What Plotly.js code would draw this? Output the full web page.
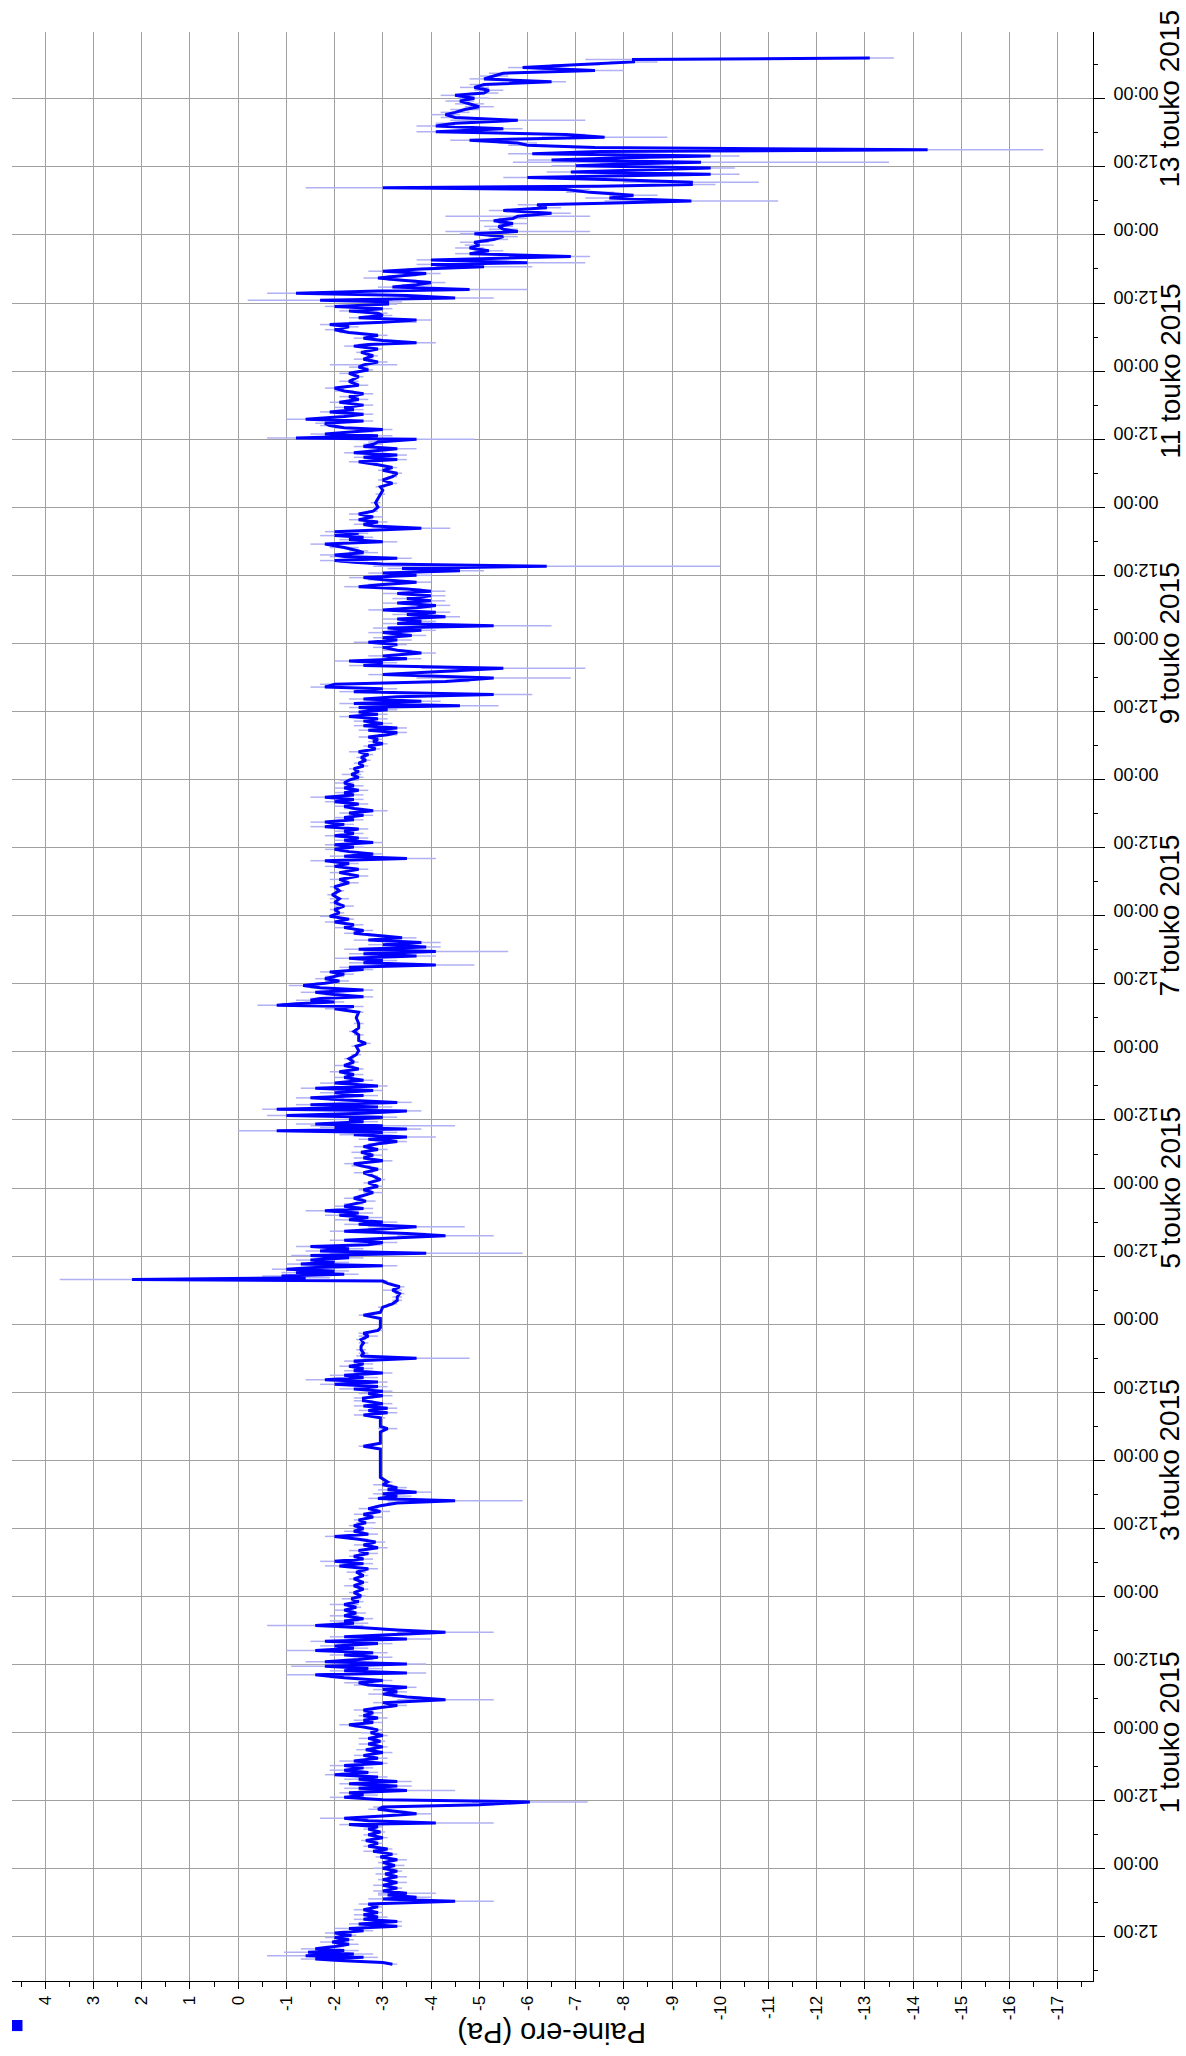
<!DOCTYPE html>
<html>
<head>
<meta charset="utf-8">
<script src="https://cdn.plot.ly/plotly-3.0.1.min.js"></script>
<style>
  html, body { margin: 0; padding: 0; background: #ffffff; }
  #chart { width: 1186px; height: 2056px; }
</style>
</head>
<body>
<div id="chart"></div>
<script>
// ---- Data (hours counted from 2015-04-29 00:00) ----
const startTime = '2015-04-29T00:00:00Z';

const hoursFromStart = [
  7.2,7.5,7.8,8.1,8.4,8.7,9.0,9.3,9.6,9.9,
  10.3,10.7,11.1,11.5,11.9,12.3,12.7,13.1,13.5,13.9,
  14.3,14.7,15.1,15.5,15.9,16.3,16.8,17.3,17.8,18.3,
  18.7,19.0,19.4,19.7,20.1,20.6,21.1,21.6,22.1,22.6,
  23.1,23.6,24.1,24.6,25.1,25.6,26.1,26.6,27.1,27.5,
  28.0,28.5,29.0,29.5,30.0,30.5,31.0,31.4,31.8,32.1,
  32.5,32.9,33.3,33.7,34.1,34.5,34.9,35.3,35.8,36.2,
  36.6,37.0,37.4,37.8,38.2,38.6,39.0,39.4,39.8,40.2,
  40.6,41.0,41.4,41.8,42.2,42.6,43.0,43.5,44.0,44.5,
  45.0,45.5,46.0,46.5,47.0,47.5,48.0,48.5,49.0,49.4,
  49.8,50.2,50.6,51.0,51.5,52.0,52.5,52.8,53.3,53.8,
  54.3,54.8,55.2,55.6,56.0,56.4,56.8,57.2,57.7,58.2,
  58.5,58.9,59.3,59.7,60.1,60.5,60.9,61.3,61.7,62.1,
  62.5,62.9,63.3,63.7,64.1,64.5,64.9,65.3,65.7,66.1,
  66.5,66.9,67.3,67.7,68.1,68.6,69.1,69.6,70.1,70.6,
  71.1,71.6,72.1,72.7,73.3,73.9,74.5,75.1,75.7,76.3,
  76.9,77.4,77.8,78.2,78.6,79.1,79.6,80.1,80.6,81.1,
  81.6,82.1,82.6,83.0,83.5,84.0,84.5,85.0,85.5,86.0,
  86.5,87.0,87.5,88.0,88.5,88.9,89.3,89.7,90.1,90.4,
  90.8,91.2,91.7,92.2,93.0,94.0,95.0,96.0,97.0,98.0,
  98.5,99.0,100.0,101.0,101.6,102.0,103.0,103.5,104.0,104.4,
  104.8,105.2,105.6,106.0,106.5,
  107.0,107.4,107.8,108.2,108.6,109.0,109.4,109.8,110.2,110.6,
  111.0,111.4,111.8,112.2,112.6,113.0,113.5,114.0,114.4,114.9,
  115.5,116.1,116.7,117.3,117.9,118.4,118.9,119.4,120.0,121.0,
  121.6,122.1,123.0,123.6,124.2,124.8,125.4,126.0,126.6,127.2,
  127.6,127.9,128.2,128.5,128.8,129.1,129.4,129.7,130.0,130.3,
  130.6,130.9,131.3,131.7,132.1,132.5,132.9,133.3,133.7,134.0,
  134.4,134.8,135.2,135.6,136.0,136.4,136.8,137.2,137.6,138.0,
  138.4,138.8,139.2,139.6,140.0,140.4,140.8,141.2,141.7,142.2,
  142.7,143.2,143.7,144.3,144.9,145.5,146.1,146.7,147.3,147.9,
  148.3,148.8,149.3,149.8,150.3,150.8,151.3,151.8,152.2,152.6,
  153.0,153.4,153.8,154.1,154.4,154.7,155.0,155.3,155.7,156.1,
  156.5,156.8,157.2,157.6,157.9,158.3,158.7,159.1,159.5,159.9,
  160.3,160.8,161.2,161.6,162.0,162.5,163.0,163.5,164.0,164.5,
  165.0,165.6,166.2,166.8,167.5,168.2,169.0,169.5,170.0,171.0,
  171.6,172.2,173.0,174.0,175.0,175.6,176.0,176.2,176.5,176.8,
  177.1,177.4,177.7,178.1,178.5,178.9,179.3,179.7,180.1,180.5,
  180.9,181.3,181.7,182.1,182.5,182.9,183.3,183.7,184.1,184.5,
  184.9,185.3,185.7,186.1,186.5,186.9,187.3,187.7,188.1,188.5,
  188.9,189.4,189.9,190.4,190.9,191.4,191.9,192.5,193.1,193.7,
  194.3,195.0,195.7,196.4,197.1,197.8,198.4,199.0,199.6,200.2,
  200.7,201.2,201.7,202.1,202.5,202.9,203.3,203.7,204.1,204.5,
  204.9,205.3,205.7,206.1,206.5,206.9,207.3,207.7,208.1,208.5,
  208.9,209.3,209.7,210.1,210.5,210.9,211.3,211.7,212.1,212.5,
  212.9,213.3,213.7,214.1,214.5,214.9,215.4,215.9,216.4,216.9,
  217.4,217.9,218.4,218.9,219.4,219.9,220.4,220.9,221.4,221.9,
  222.3,222.7,223.1,223.5,223.9,224.3,224.7,225.1,225.5,225.9,
  226.3,226.7,227.1,227.5,227.9,228.3,228.7,229.0,229.4,229.8,
  230.2,
  230.6,231.0,231.5,232.0,232.3,232.8,233.3,233.9,234.5,235.0,
  235.6,236.1,236.6,236.9,237.3,237.8,238.3,238.8,239.3,239.8,
  240.2,240.6,241.0,241.4,241.9,242.3,242.7,243.1,243.5,243.9,
  244.3,244.7,245.1,245.5,245.9,246.3,246.7,247.1,247.5,247.9,
  248.4,248.8,249.2,249.6,250.0,250.4,250.8,251.2,251.6,252.0,
  252.4,252.8,253.2,253.6,254.0,254.3,254.6,255.0,255.3,255.6,
  256.0,256.3,256.9,257.5,257.9,258.3,258.7,259.0,259.4,259.7,
  260.3,260.7,261.0,261.4,261.8,262.3,262.8,263.3,264.0,264.8,
  265.5,266.3,267.0,267.6,268.2,268.8,269.4,270.0,270.5,271.0,
  271.5,272.0,272.4,272.8,273.2,273.6,274.0,274.3,274.7,275.1,
  275.5,276.0,276.2,276.6,276.9,277.3,277.7,278.0,278.4,278.8,
  279.2,279.5,280.0,280.4,280.8,281.2,281.6,282.0,282.5,283.0,
  283.5,284.0,284.5,285.0,285.5,286.2,287.0,287.6,288.2,288.7,
  289.1,289.6,290.1,290.7,291.3,291.9,292.4,292.7,293.0,293.4,
  293.8,294.3,294.8,295.3,295.8,296.2,296.6,297.0,297.4,297.8,
  298.2,298.6,299.0,299.4,299.8,300.2,300.5,300.9,301.3,301.7,
  302.1,302.4,302.8,303.2,303.6,304.0,304.4,304.8,305.2,305.6,
  306.0,306.4,306.8,307.1,307.6,308.2,308.7,309.2,309.7,310.2,
  310.7,311.2,311.7,312.2,312.6,313.0,313.5,314.0,314.5,314.9,
  315.3,315.8,316.3,316.8,317.3,317.6,318.0,318.5,319.0,319.5,
  320.0,320.3,320.6,320.9,321.3,321.7,322.1,322.4,322.7,323.1,
  323.5,323.8,324.2,324.5,324.8,325.2,325.6,325.9,326.3,326.7,
  327.0,327.4,327.8,328.2,328.7,329.2,329.7,330.2,330.7,331.2,
  331.7,332.2,332.7,333.2,333.6,334.1,334.6,335.1,335.6,336.1,
  336.6,337.0,337.5,338.0,338.5,339.0,339.5,340.0,340.5,341.0,
  341.5,342.0,342.5,342.9,343.2
];

const pressurePa = [
  -3.2,-3.0,-2.2,-1.6,-2.6,-1.4,-2.4,-1.45,-2.2,-1.6,
  -2.0,-2.3,-1.95,-2.3,-2.0,-2.35,-2.0,-2.6,-2.3,-3.3,
  -2.5,-3.3,-2.6,-2.9,-2.6,-2.9,-2.6,-2.9,-2.7,-4.5,
  -3.0,-3.7,-3.1,-3.5,-3.0,-3.3,-3.0,-3.3,-3.0,-3.3,
  -3.05,-3.3,-3.0,-3.25,-3.0,-3.3,-2.95,-3.2,-2.8,-3.1,
  -2.7,-2.9,-2.65,-3.0,-2.7,-2.95,-2.7,-2.9,-2.3,-4.1,
  -2.7,-2.2,-3.0,-3.7,-3.3,-2.9,-3.0,-5.0,-6.05,-3.0,
  -2.2,-2.6,-2.3,-3.5,-2.5,-3.3,-2.3,-3.3,-2.5,-2.9,
  -2.0,-2.7,-2.2,-2.6,-2.2,-3.0,-2.4,-2.9,-2.6,-3.0,
  -2.65,-3.0,-2.7,-2.95,-2.7,-3.0,-2.75,-2.9,-2.6,-2.3,
  -2.8,-2.6,-2.9,-2.6,-2.8,-2.6,-3.0,-3.3,-3.0,-4.3,
  -3.5,-3.0,-3.3,-3.0,-3.5,-2.7,-2.5,-3.0,-2.2,-1.6,
  -3.5,-2.2,-2.7,-1.8,-3.5,-1.8,-2.5,-2.9,-2.2,-2.8,
  -1.6,-2.4,-2.0,-2.9,-1.8,-3.5,-2.2,-3.3,-4.3,-3.3,
  -2.6,-1.6,-2.4,-2.2,-2.6,-2.2,-2.45,-2.2,-2.45,-2.2,
  -2.5,-2.35,-2.55,-2.4,-2.6,-2.4,-2.6,-2.4,-2.6,-2.45,
  -2.7,-2.1,-2.6,-2.0,-2.6,-2.4,-2.7,-2.5,-2.9,-2.6,
  -2.85,-2.5,-2.0,-2.7,-2.4,-2.6,-2.4,-2.65,-2.5,-2.8,
  -2.6,-2.95,-2.7,-2.95,-3.3,-4.5,-2.9,-3.3,-3.0,-3.7,
  -3.1,-3.3,-3.0,-3.1,-2.95,-2.95,-2.95,-2.95,-2.95,-2.95,
  -2.6,-2.95,-2.95,-2.95,-3.1,-2.95,-2.95,-2.95,-2.6,-3.1,
  -2.7,-3.1,-2.6,-3.0,-2.6,
  -2.6,-3.0,-2.7,-3.0,-2.4,-2.9,-2.0,-2.9,-1.8,-2.6,
  -2.2,-3.0,-2.4,-2.6,-2.3,-2.6,-2.4,-3.7,-2.55,-2.6,
  -2.55,-2.55,-2.6,-2.55,-2.7,-2.6,-2.9,-2.95,-2.95,-2.95,
  -2.6,-2.95,-3.0,-3.2,-3.3,-3.3,-3.35,-3.2,-3.35,-3.1,
  -3.0,2.2,-1.4,-0.9,-2.2,-1.2,-2.0,-1.0,-1.6,-3.0,
  -1.3,-2.0,-1.5,-2.3,-1.5,-3.9,-1.7,-2.3,-1.5,-2.7,
  -3.0,-2.2,-3.2,-4.3,-3.5,-2.2,-3.0,-3.7,-2.5,-3.0,
  -2.3,-2.7,-2.1,-2.5,-1.8,-2.6,-2.2,-2.4,-2.65,-2.4,
  -2.6,-2.8,-2.6,-2.9,-2.7,-2.95,-2.8,-2.6,-2.9,-2.55,
  -2.4,-3.0,-2.6,-2.8,-2.55,-2.9,-2.6,-2.9,-3.3,-2.7,
  -3.5,-2.4,-3.0,-0.8,-3.5,-2.0,-3.0,-1.6,-2.6,-2.3,
  -3.0,-1.0,-2.6,-3.5,-0.8,-2.9,-1.5,-3.3,-2.2,-1.5,
  -2.6,-2.0,-2.8,-1.6,-2.9,-2.0,-2.6,-2.2,-2.4,-2.1,
  -2.5,-2.2,-2.4,-2.3,-2.45,-2.5,-2.45,-2.65,-2.5,-2.5,
  -2.4,-2.5,-2.5,-2.45,-2.5,-2.0,-2.4,-0.8,-1.2,-2.0,
  -1.5,-1.7,-2.6,-2.0,-1.6,-2.6,-1.7,-1.35,-1.8,-2.1,
  -1.8,-2.0,-2.2,-1.9,-2.6,-2.3,-4.1,-2.6,-3.0,-2.3,
  -3.7,-2.6,-4.1,-2.5,-3.9,-3.0,-3.8,-2.7,-3.4,-2.9,
  -2.4,-2.6,-2.2,-2.4,-2.0,-2.3,-1.9,-2.1,-2.0,-2.2,
  -2.0,-2.1,-1.95,-2.1,-2.0,-2.3,-2.1,-2.5,-2.1,-2.5,
  -2.0,-2.3,-1.8,-3.5,-2.2,-2.8,-2.3,-2.0,-2.4,-2.0,
  -2.8,-2.2,-2.5,-2.0,-2.4,-2.2,-2.5,-1.8,-2.2,-1.8,
  -2.4,-2.2,-2.6,-2.3,-2.8,-2.4,-2.2,-2.5,-2.0,-2.4,
  -1.8,-2.4,-2.2,-2.5,-2.2,-2.4,-2.2,-2.3,-2.5,-2.35,
  -2.5,-2.4,-2.6,-2.5,-2.65,-2.55,-2.7,-2.5,-2.85,-2.7,
  -3.0,-2.8,-2.9,-2.7,-3.1,-3.3,-2.7,-3.3,-2.6,-3.0,
  -2.6,-2.9,-2.3,-2.9,-2.5,-3.1,-2.5,-4.6,-2.4,-3.8,
  -2.6,
  -3.3,-5.3,-2.4,-3.0,-1.8,-2.0,-4.3,-5.3,-3.0,-4.2,
  -5.5,-2.6,-3.0,-2.3,-3.5,-3.0,-3.8,-3.3,-3.0,-3.3,
  -2.7,-3.3,-3.0,-3.6,-3.0,-3.8,-3.1,-5.3,-3.3,-3.8,
  -3.3,-4.3,-3.5,-4.1,-3.0,-3.7,-4.1,-3.3,-4.0,-3.5,
  -4.0,-3.3,-4.0,-3.5,-2.5,-3.0,-3.7,-3.0,-2.6,-3.7,
  -3.0,-4.6,-3.4,-6.4,-3.0,-2.4,-2.0,-3.3,-2.2,-2.0,
  -2.6,-2.5,-2.2,-1.8,-3.0,-2.3,-2.6,-2.0,-2.5,-2.0,
  -3.8,-2.8,-2.6,-2.9,-2.5,-2.8,-2.5,-2.8,-2.9,-2.85,
  -2.9,-2.95,-3.0,-2.95,-3.2,-3.0,-3.2,-3.3,-3.0,-3.2,
  -2.9,-2.5,-3.3,-2.6,-3.3,-2.4,-2.9,-3.3,-2.6,-2.8,
  -2.9,-3.7,-1.2,-2.9,-1.8,-2.5,-3.0,-2.2,-1.9,-1.8,
  -2.6,-1.4,-2.2,-2.6,-1.9,-2.4,-2.2,-2.6,-2.1,-2.5,
  -2.3,-2.6,-2.2,-2.0,-2.5,-2.3,-2.5,-2.3,-2.7,-2.5,
  -2.6,-2.9,-2.6,-2.8,-2.55,-2.9,-2.4,-2.7,-3.7,-3.0,
  -2.6,-2.9,-2.3,-2.0,-2.3,-1.9,-3.0,-3.7,-2.5,-3.0,
  -2.9,-2.3,-3.0,-2.0,-3.1,-3.1,-1.7,-4.5,-3.5,-1.2,
  -2.9,-4.8,-3.2,-3.7,-4.0,-3.4,-2.9,-3.4,-3.9,-3.0,
  -3.8,-5.1,-4.0,-6.0,-4.0,-6.9,-4.8,-5.2,-4.8,-5.0,
  -4.9,-5.3,-5.5,-4.9,-5.8,-5.5,-5.4,-5.7,-5.3,-5.7,
  -5.8,-6.5,-5.5,-6.4,-6.2,-7.6,-9.4,-7.7,-8.2,-7.3,
  -6.8,-3.0,-7.5,-9.4,-9.4,-8.0,-6.0,-7.7,-9.8,-6.9,
  -8.5,-9.8,-7.0,-8.0,-9.6,-6.5,-8.0,-9.8,-6.1,-7.5,
  -14.3,-7.4,-6.0,-5.8,-4.8,-7.6,-6.8,-4.1,-5.5,-4.1,
  -4.5,-5.8,-4.5,-4.3,-4.5,-4.7,-5.0,-4.8,-4.6,-4.9,
  -4.5,-5.1,-5.2,-4.9,-5.1,-6.5,-5.1,-5.3,-5.5,-7.4,
  -5.9,-7.0,-8.2,-8.2,-13.1
];

const errorPa = [
  0.1,0.1,0.3,0.3,0.3,0.8,0.4,0.5,0.3,0.3,
  0.2,0.2,0.25,0.1,0.2,0.1,0.2,0.2,0.3,0.1,
  0.2,0.1,0.2,0.2,0.2,0.1,0.2,0.1,0.2,0.8,
  0.3,0.3,0.2,0.6,0.2,0.1,0.2,0.2,0.1,0.2,
  0.2,0.1,0.2,0.2,0.1,0.2,0.1,0.1,0.2,0.1,
  0.1,0.1,0.1,0.1,0.1,0.1,0.1,0.1,0.2,1.2,
  0.3,0.5,0.2,0.3,0.2,0.2,0.2,0.3,1.2,0.4,
  0.3,0.3,0.2,1.0,0.3,0.3,0.2,0.3,0.3,0.2,
  0.2,0.2,0.3,0.2,0.3,0.1,0.3,0.2,0.2,0.2,
  0.2,0.1,0.2,0.1,0.2,0.1,0.2,0.1,0.2,0.2,
  0.2,0.2,0.2,0.1,0.2,0.2,0.2,0.2,0.2,1.0,
  0.3,0.3,0.2,0.2,0.2,0.3,0.3,0.2,0.3,0.6,
  0.4,0.3,0.3,0.7,0.4,0.4,0.3,0.3,0.3,0.3,
  0.6,0.3,0.3,0.3,0.3,0.5,0.3,0.3,1.0,0.3,
  0.3,1.0,0.3,0.3,0.2,0.3,0.2,0.2,0.1,0.3,
  0.1,0.2,0.1,0.1,0.1,0.2,0.1,0.1,0.1,0.2,
  0.2,0.3,0.2,0.3,0.2,0.1,0.2,0.2,0.2,0.2,
  0.2,0.2,0.2,0.2,0.2,0.2,0.1,0.2,0.1,0.2,
  0.2,0.2,0.2,0.1,0.2,1.4,0.2,0.3,0.2,0.3,
  0.2,0.2,0.2,0.1,0,0,0,0,0,0,
  0.1,0,0,0,0.2,0,0,0.1,0.2,0.2,
  0.2,0.2,0.2,0.2,0.2,
  0.2,0.2,0.2,0.2,0.3,0.2,0.3,0.2,0.4,0.3,
  0.3,0.2,0.2,0.2,0.2,0.2,0.2,1.1,0.1,0.1,
  0.1,0,0.1,0.1,0.2,0.1,0.1,0,0,0,
  0.1,0,0.1,0.1,0.1,0.1,0.1,0.2,0.1,0.1,
  0.1,1.5,0.5,0.4,0.3,0.3,0.3,0.3,0.3,0.3,
  0.3,0.3,0.3,0.3,0.4,2.0,0.3,0.3,0.3,0.3,
  0.3,0.3,0.3,1.0,0.4,0.3,0.3,1.0,0.3,0.3,
  0.3,0.3,0.3,0.3,0.4,0.2,0.2,0.2,0.2,0.2,
  0.1,0.2,0.1,0.1,0.1,0.1,0.1,0.2,0.1,0.2,
  0.2,0.2,0.2,0.2,0.2,0.2,0.2,0.2,0.2,0.2,
  0.6,0.3,0.3,0.8,0.3,0.3,1.5,0.4,0.3,0.3,
  0.3,0.4,0.3,0.3,0.3,0.3,0.3,0.3,0.3,0.3,
  0.3,0.3,0.2,0.3,0.2,0.3,0.2,0.2,0.2,0.2,
  0.1,0.2,0.1,0.1,0.1,0,0.1,0.1,0,0.1,
  0.1,0,0.1,0,0.1,0.2,0.2,0.4,0.3,0.2,
  0.3,0.2,0.2,0.2,0.3,0.2,0.2,0.3,0.2,0.2,
  0.2,0.2,0.2,0.2,0.2,0.2,0.8,0.3,0.3,0.3,
  0.4,0.3,1.5,0.3,0.3,0.3,0.4,0.3,0.3,0.2,
  0.2,0.2,0.2,0.2,0.2,0.1,0.2,0.1,0.1,0.2,
  0.1,0.2,0.1,0.1,0.1,0.2,0.2,0.2,0.2,0.2,
  0.2,0.2,0.3,0.6,0.3,0.2,0.2,0.2,0.2,0.2,
  0.2,0.2,0.2,0.2,0.2,0.2,0.2,0.3,0.2,0.3,
  0.2,0.2,0.2,0.2,0.3,0.2,0.2,0.2,0.2,0.2,
  0.3,0.2,0.2,0.2,0.2,0.2,0.2,0.2,0.1,0.2,
  0.1,0.1,0.1,0.1,0.1,0.1,0.1,0.2,0.1,0.1,
  0.1,0.1,0.1,0.2,0.2,0.2,0.2,0.2,0.2,0.2,
  0.2,0.2,0.2,0.2,0.2,0.2,0.2,0.8,0.3,0.4,
  0.3,
  0.3,0.8,0.3,0.3,0.3,0.3,0.5,1.6,0.3,0.4,
  1.7,0.3,0.3,0.3,0.3,0.3,0.3,0.3,0.2,0.2,
  0.3,0.3,0.2,0.3,0.3,0.3,0.3,1.2,0.3,0.3,
  0.3,0.3,0.3,0.3,0.3,0.3,0.3,0.3,0.3,0.3,
  0.3,0.3,0.3,0.3,0.3,0.3,0.3,0.3,0.3,0.3,
  0.3,0.5,0.3,3.6,0.3,0.3,0.3,0.3,0.3,0.3,
  0.3,0.2,0.3,0.3,0.3,0.2,0.2,0.3,0.2,0.2,
  0.6,0.2,0.2,0.2,0.2,0.2,0.2,0.1,0.1,0.1,
  0,0.1,0,0.1,0.1,0.1,0.1,0.1,0.1,0.1,
  0.1,0.2,0.2,0.2,0.2,0.2,0.2,0.4,0.2,0.2,
  0.2,1.2,0.6,0.3,0.3,0.3,0.2,0.2,0.2,0.2,
  0.2,0.4,0.2,0.2,0.2,0.2,0.2,0.2,0.2,0.2,
  0.2,0.2,0.2,0.2,0.2,0.2,0.1,0.2,0.1,0.2,
  0.7,0.2,0.2,0.1,0.1,0.1,0.2,0.2,0.4,0.2,
  0.2,0.2,0.2,0.2,0.2,0.2,0.7,0.3,0.2,0.2,
  0.2,0.2,0.2,0.2,0.2,0.3,1.5,0.8,0.3,0.6,
  0.3,1.2,0.3,0.3,0.3,0.3,0.3,0.3,0.3,0.3,
  0.3,1.0,0.3,1.2,0.3,0.4,0.3,0.3,0.3,0.3,
  0.3,0.3,0.3,0.3,1.5,0.3,0.3,0.3,0.3,0.3,
  1.5,0.4,0.3,0.3,0.4,0.5,1.8,0.5,0.5,0.5,
  0.5,1.6,0.5,0.5,1.4,0.5,0.5,0.5,0.6,0.5,
  0.5,0.5,0.5,0.5,3.9,0.5,0.5,0.6,0.5,0.5,
  2.4,0.5,0.4,0.4,0.4,1.3,0.4,0.4,0.4,0.4,
  0.4,1.4,0.3,0.3,0.3,0.3,0.3,0.3,0.3,0.3,
  0.3,0.3,0.3,0.3,0.3,0.3,0.3,0.3,0.3,0.6,
  0.3,0.5,0.5,1.0,0.5
];

// ---- Axis ticks and labels ----
const valueTicks = [4,3,2,1,0,-1,-2,-3,-4,-5,-6,-7,-8,-9,-10,-11,-12,-13,-14,-15,-16,-17];
const valueTickLabels = ['4','3','2','1','0','-1','-2','-3','-4','-5','-6','-7','-8','-9','-10','-11','-12','-13','-14','-15','-16','-17'];
const dateLabelTimes = ['2015-05-01 00:00','2015-05-03 00:00','2015-05-05 00:00','2015-05-07 00:00','2015-05-09 00:00','2015-05-11 00:00','2015-05-13 00:00'];
const dateLabelTexts = ['1 touko 2015','3 touko 2015','5 touko 2015','7 touko 2015','9 touko 2015','11 touko 2015','13 touko 2015'];
const axisTitle = 'Paine-ero (Pa)';

// ---- Build ----
const t0 = Date.parse(startTime);
function hoursToDate(h) {
  return new Date(t0 + h * 3600000).toISOString().slice(0, 19).replace('T', ' ');
}
const times = hoursFromStart.map(hoursToDate);

const errorTrace = {
  type: 'scatter', mode: 'markers',
  x: pressurePa, y: times,
  marker: { size: 1, color: 'rgba(0,0,0,0)' },
  error_x: { type: 'data', array: errorPa, visible: true, color: '#b0b0f4', thickness: 1.5, width: 0 },
  showlegend: false, hoverinfo: 'skip'
};
const lineTrace = {
  type: 'scatter', mode: 'lines',
  x: pressurePa, y: times,
  line: { color: '#0000ff', width: 3 },
  showlegend: false
};

const FONT = 'Liberation Sans, Arial, Helvetica, sans-serif';
const annotations = dateLabelTimes.map((t, i) => ({
  xref: 'paper', yref: 'y', x: 1.071, y: t,
  text: dateLabelTexts[i], showarrow: false, textangle: -90,
  xanchor: 'center', yanchor: 'middle',
  font: { family: FONT, size: 28, color: '#000' }
}));
annotations.push({
  xref: 'paper', yref: 'paper', x: 0.4986, y: -0.0267,
  text: axisTitle, showarrow: false, textangle: 180,
  xanchor: 'center', yanchor: 'middle',
  font: { family: FONT, size: 29, color: '#000' }
});

const layout = {
  width: 1186, height: 2056,
  margin: { l: 12, r: 93, t: 32, b: 75, pad: 0 },
  paper_bgcolor: '#ffffff', plot_bgcolor: '#ffffff',
  showlegend: false,
  xaxis: {
    range: [4.69, -17.73],
    tickmode: 'array', tickvals: valueTicks, ticktext: valueTickLabels,
    tickangle: -90, ticks: 'outside', ticklen: 7, tickwidth: 1, tickcolor: '#000',
    tickfont: { family: FONT, size: 17, color: '#000' },
    showline: true, linecolor: '#000', linewidth: 1, mirror: false,
    showgrid: true, gridcolor: '#a0a0a0', gridwidth: 1, zeroline: false,
    minor: { tickmode: 'linear', tick0: 0.5, dtick: 1, ticks: 'outside', ticklen: 5, tickcolor: '#000', showgrid: false },
    automargin: false, fixedrange: true
  },
  yaxis: {
    type: 'date', side: 'right',
    range: ['2015-04-29 04:14', '2015-05-13 11:46'],
    tick0: '2015-04-29 00:00', dtick: 43200000, tickformat: '%H:%M',
    tickangle: 180, ticks: 'outside', ticklen: 11, tickwidth: 1, tickcolor: '#000',
    ticklabelstandoff: 50,
    tickfont: { family: FONT, size: 18, color: '#000' },
    showline: true, linecolor: '#000', linewidth: 1, mirror: false,
    showgrid: true, gridcolor: '#a0a0a0', gridwidth: 1, zeroline: false,
    minor: { tickmode: 'linear', tick0: '2015-04-29 06:00', dtick: 43200000, ticks: 'outside', ticklen: 4, tickcolor: '#000', showgrid: false },
    automargin: false, fixedrange: true
  },
  annotations: annotations,
  shapes: [{
    type: 'rect', xref: 'paper', yref: 'paper',
    x0: 0.0, x1: 0.0097, y0: -0.0257, y1: -0.0200,
    fillcolor: '#0000ff', line: { width: 0 }
  }]
};

Plotly.newPlot('chart', [errorTrace, lineTrace], layout, { displayModeBar: false, staticPlot: true });
</script>
</body>
</html>
